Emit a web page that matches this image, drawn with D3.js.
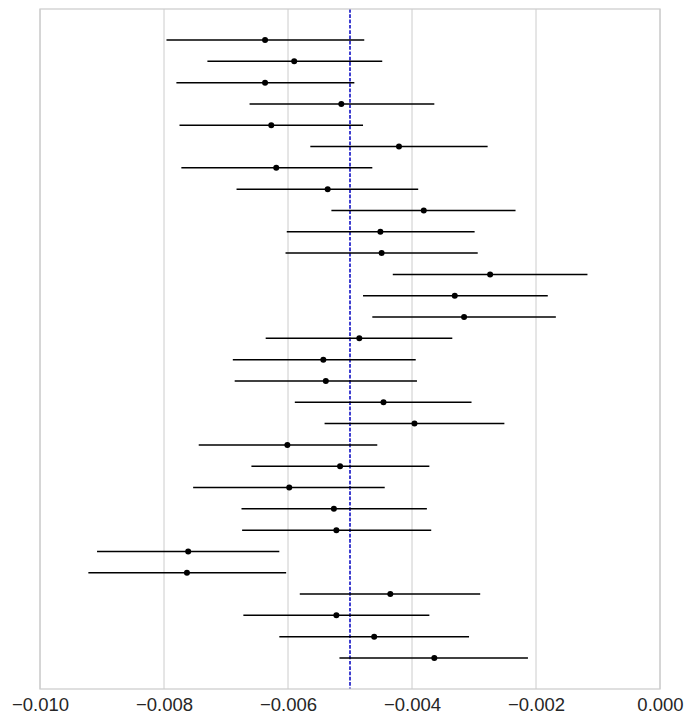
<!DOCTYPE html>
<html>
<head>
<meta charset="utf-8">
<script src="https://cdn.jsdelivr.net/npm/d3@7"></script>
<style>
  body { margin: 0; background: #fff; }
  svg { display: block; }
</style>
</head>
<body>
<svg id="vis-01" width="694" height="724"></svg>
<script>
// point estimates, top row first
let estimates = [
  -0.00637, -0.00590, -0.00637, -0.00514, -0.00627, -0.00421, -0.00619, -0.00536, -0.00381, -0.00451,
  -0.00449, -0.00274, -0.00331, -0.00316, -0.00485, -0.00543, -0.00539, -0.00446, -0.00396, -0.00601,
  -0.00516, -0.00598, -0.00526, -0.00522, -0.00761, -0.00763, -0.00435, -0.00522, -0.00461, -0.00364
];
// interval lower bounds
let lowers = [
  -0.00796, -0.00730, -0.00780, -0.00662, -0.00775, -0.00564, -0.00772, -0.00683, -0.00530, -0.00602,
  -0.00604, -0.00431, -0.00479, -0.00464, -0.00636, -0.00689, -0.00686, -0.00589, -0.00541, -0.00744,
  -0.00659, -0.00753, -0.00675, -0.00674, -0.00908, -0.00922, -0.00581, -0.00672, -0.00614, -0.00517
];
// interval upper bounds
let uppers = [
  -0.00477, -0.00448, -0.00493, -0.00364, -0.00479, -0.00278, -0.00464, -0.00390, -0.00233, -0.00299,
  -0.00294, -0.00117, -0.00181, -0.00168, -0.00335, -0.00394, -0.00392, -0.00304, -0.00251, -0.00456,
  -0.00372, -0.00444, -0.00376, -0.00369, -0.00614, -0.00603, -0.00290, -0.00372, -0.00308, -0.00213
];
let xTicks = [-0.010, -0.008, -0.006, -0.004, -0.002, 0.000];
let refValue = -0.005;

let svg = d3.select('#vis-01');
let width = 694;
let height = 724;
let margin = { top: 9, right: 34, bottom: 35, left: 40 };

let rows = estimates.map((d, i) => {
  return { i: i, est: d, lo: lowers[i], hi: uppers[i] };
});

let x = d3.scaleLinear()
  .domain([-0.010, 0.000])
  .range([margin.left, width - margin.right]);

let y = d3.scalePoint()
  .domain(d3.range(rows.length))
  .range([margin.top, height - margin.bottom])
  .padding(1.455);

// grid lines
svg.append('g')
  .selectAll('line')
  .data(xTicks)
  .enter().append('line')
  .attr('x1', (d) => x(d))
  .attr('x2', (d) => x(d))
  .attr('y1', margin.top)
  .attr('y2', height - margin.bottom)
  .attr('stroke', '#cccccc')
  .attr('stroke-width', 1);

// axis labels only, no tick marks
let xAxis = d3.axisBottom(x)
  .tickValues(xTicks)
  .tickSize(0)
  .tickPadding(9)
  .tickFormat((d) => d3.format('.3f')(d).replace('-', '\u2212'));

let axisG = svg.append('g')
  .attr('transform', `translate(0,${height - margin.bottom})`)
  .call(xAxis);

axisG.select('.domain').remove();
axisG.selectAll('text')
  .attr('fill', '#262626')
  .style('font-family', '"Liberation Sans", Arial, sans-serif')
  .style('font-size', '18.5px');

// reference line
svg.append('line')
  .attr('x1', x(refValue))
  .attr('x2', x(refValue))
  .attr('y1', margin.top)
  .attr('y2', height - margin.bottom)
  .attr('stroke', '#0000c0')
  .attr('stroke-width', 1.5)
  .attr('stroke-dasharray', '3.7,1.6');

// error bars
let bars = svg.append('g');

bars.selectAll('line')
  .data(rows)
  .enter().append('line')
  .attr('x1', (d) => x(d.lo))
  .attr('x2', (d) => x(d.hi))
  .attr('y1', (d) => y(d.i))
  .attr('y2', (d) => y(d.i))
  .attr('stroke', '#000')
  .attr('stroke-width', 1.5);

bars.selectAll('circle')
  .data(rows)
  .enter().append('circle')
  .attr('cx', (d) => x(d.est))
  .attr('cy', (d) => y(d.i))
  .attr('r', 3)
  .attr('fill', '#000');

// frame
svg.append('rect')
  .attr('x', margin.left)
  .attr('y', margin.top)
  .attr('width', width - margin.left - margin.right)
  .attr('height', height - margin.top - margin.bottom)
  .attr('fill', 'none')
  .attr('stroke', '#cccccc')
  .attr('stroke-width', 1.25);
</script>
</body>
</html>
